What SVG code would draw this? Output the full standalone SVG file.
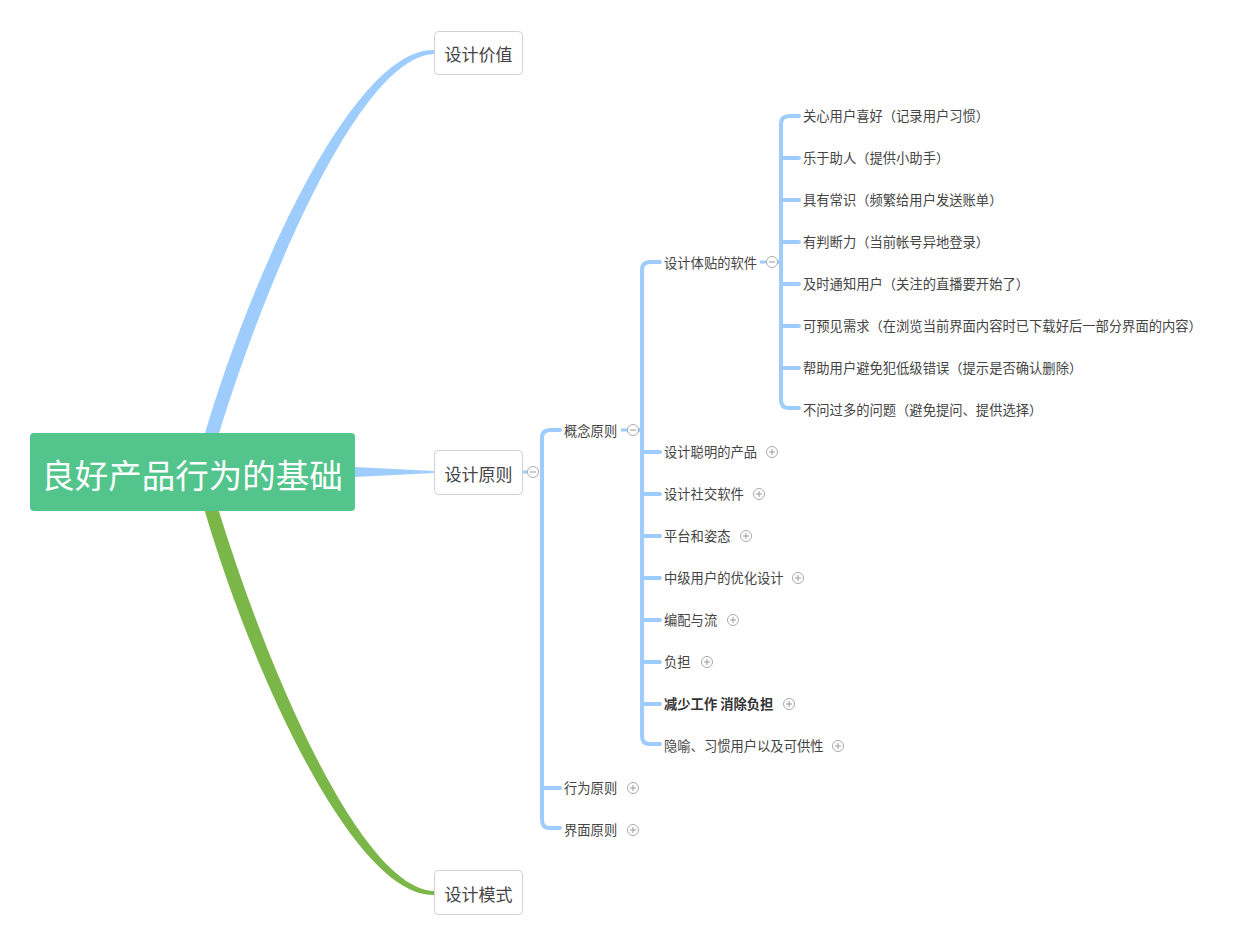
<svg xmlns="http://www.w3.org/2000/svg" width="1240" height="949" viewBox="0 0 1240 949">
<defs>
<style>
.t{font-family:"Noto Sans CJK SC","Liberation Sans",sans-serif;font-size:13.3px;fill:#444}
.b{font-weight:bold;fill:#333}
.box{fill:#fff;stroke:#d0d0d0;stroke-width:1}
.bt{font-family:"Noto Sans CJK SC","Liberation Sans",sans-serif;font-size:17px;fill:#444;text-anchor:middle}
.ln{fill:none;stroke:#9ecdfd;stroke-width:4;stroke-linecap:round}
.stub{fill:none;stroke:#9ecdfd;stroke-width:3}
.c{fill:#fff;stroke:#aaa;stroke-width:1}
.s{stroke:#999;stroke-width:1}
</style>
</defs>
<rect width="1240" height="949" fill="#fff"/>
<g id="connectors">
<path d="M203,440 C253,268 355,48 434,50 L434,54 C362,56 268,272 217,440 Z" fill="#9ecdfd"/>
<path d="M203,505 C253,677 355,897 434,895 L434,891 C362,889 268,673 217,505 Z" fill="#7ab648"/>
<path d="M355,467 L434,471 L434,473 L355,477 Z" fill="#9ecdfd"/>
<path class="stub" d="M522,472 H528"/>
<path class="ln" d="M560,430 H550 Q542,430 542,438 V820 Q542,828 550,828 H560 M542,788 H560"/>
<path class="stub" d="M621,430 H628"/>
<path class="ln" d="M660,262 H650 Q642,262 642,270 V736 Q642,744 650,744 H660 M642,452 H660 M642,494 H660 M642,536 H660 M642,578 H660 M642,620 H660 M642,662 H660 M642,704 H660 M642,430 H639"/>
<path class="stub" d="M760,262 H767"/>
<path class="ln" d="M799,116 H789 Q781,116 781,124 V400 Q781,408 789,408 H799 M781,158 H799 M781,200 H799 M781,242 H799 M781,284 H799 M781,326 H799 M781,368 H799 M781,262 H778"/>
</g>
<g id="root">
<rect x="30" y="433" width="325" height="78" rx="4" fill="#52c48c"/>
<text x="192" y="488" font-family="Noto Sans CJK SC, Liberation Sans, sans-serif" font-size="33.5" fill="#fff" text-anchor="middle">良好产品行为的基础</text>
</g>
<g id="n-value">
<rect class="box" x="434.5" y="31.5" width="88" height="43" rx="4"/>
<text class="bt" x="478.5" y="61">设计价值</text>
</g>
<g id="n-principle">
<rect class="box" x="434.5" y="450.5" width="88" height="44" rx="4"/>
<text class="bt" x="478.5" y="481">设计原则</text>
<circle class="c" cx="533" cy="472" r="5.5"/><path class="s" d="M530,472 H536"/>
</g>
<g id="n-pattern">
<rect class="box" x="434.5" y="870.5" width="88" height="44" rx="4"/>
<text class="bt" x="478.5" y="901">设计模式</text>
</g>
<g id="n-concept">
<text class="t" x="564" y="436">概念原则</text>
<circle class="c" cx="633" cy="430" r="5.5"/><path class="s" d="M630,430 H636"/>
</g>
<g id="n-behavior">
<text class="t" x="564" y="793">行为原则</text>
<circle class="c" cx="633" cy="788" r="5.5"/><path class="s" d="M630,788 H636 M633,785 V791"/>
</g>
<g id="n-interface">
<text class="t" x="564" y="835">界面原则</text>
<circle class="c" cx="633" cy="830" r="5.5"/><path class="s" d="M630,830 H636 M633,827 V833"/>
</g>
<g id="n-considerate">
<text class="t" x="664" y="268">设计体贴的软件</text>
<circle class="c" cx="772" cy="262" r="5.5"/><path class="s" d="M769,262 H775"/>
</g>
<g id="n-smart"><text class="t" x="664" y="457">设计聪明的产品</text><circle class="c" cx="772" cy="452" r="5.5"/><path class="s" d="M769,452 H775 M772,449 V455"/></g>
<g id="n-social"><text class="t" x="664" y="499">设计社交软件</text><circle class="c" cx="759" cy="494" r="5.5"/><path class="s" d="M756,494 H762 M759,491 V497"/></g>
<g id="n-platform"><text class="t" x="664" y="541">平台和姿态</text><circle class="c" cx="746" cy="536" r="5.5"/><path class="s" d="M743,536 H749 M746,533 V539"/></g>
<g id="n-intermediate"><text class="t" x="664" y="583">中级用户的优化设计</text><circle class="c" cx="798" cy="578" r="5.5"/><path class="s" d="M795,578 H801 M798,575 V581"/></g>
<g id="n-flow"><text class="t" x="664" y="625">编配与流</text><circle class="c" cx="733" cy="620" r="5.5"/><path class="s" d="M730,620 H736 M733,617 V623"/></g>
<g id="n-burden"><text class="t" x="664" y="667">负担</text><circle class="c" cx="707" cy="662" r="5.5"/><path class="s" d="M704,662 H710 M707,659 V665"/></g>
<g id="n-reduce"><text class="t b" x="664" y="709">减少工作 消除负担</text><circle class="c" cx="789" cy="704" r="5.5"/><path class="s" d="M786,704 H792 M789,701 V707"/></g>
<g id="n-metaphor"><text class="t" x="664" y="751">隐喻、习惯用户以及可供性</text><circle class="c" cx="838" cy="746" r="5.5"/><path class="s" d="M835,746 H841 M838,743 V749"/></g>
<g id="n-c1"><text class="t" x="803" y="121">关心用户喜好（记录用户习惯）</text></g>
<g id="n-c2"><text class="t" x="803" y="163">乐于助人（提供小助手）</text></g>
<g id="n-c3"><text class="t" x="803" y="205">具有常识（频繁给用户发送账单）</text></g>
<g id="n-c4"><text class="t" x="803" y="247">有判断力（当前帐号异地登录）</text></g>
<g id="n-c5"><text class="t" x="803" y="289">及时通知用户（关注的直播要开始了）</text></g>
<g id="n-c6"><text class="t" x="803" y="331">可预见需求（在浏览当前界面内容时已下载好后一部分界面的内容）</text></g>
<g id="n-c7"><text class="t" x="803" y="373">帮助用户避免犯低级错误（提示是否确认删除）</text></g>
<g id="n-c8"><text class="t" x="803" y="415">不问过多的问题（避免提问、提供选择）</text></g>
</svg>
